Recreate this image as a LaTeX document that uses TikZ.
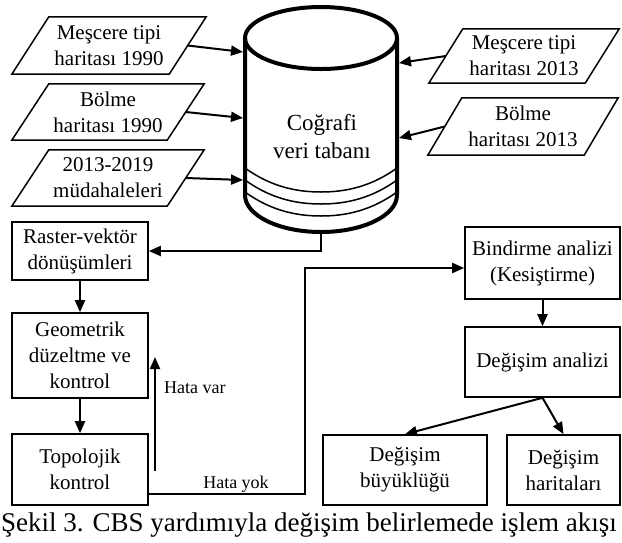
\documentclass[tikz,border=0pt]{standalone}
\usepackage{fontspec}
\setmainfont{Liberation Serif}
\usetikzlibrary{arrows.meta,calc}
\begin{document}
\begin{tikzpicture}[x=1pt,y=-1pt,
 box/.style={draw, line width=1.6pt, rectangle, align=center, inner sep=0pt, font=\fontsize{21}{26}\selectfont},
 para/.style={rectangle, align=center, inner sep=0pt, font=\fontsize{21}{26}\selectfont, minimum height=56pt},
 paraline/.style={line width=1.5pt, line join=miter},
 arr/.style={line width=2pt, -{Triangle[length=12pt,width=10pt]}},
 lbl/.style={font=\fontsize{18}{20}\selectfont, inner sep=0pt},
 cyl/.style={line width=4pt},
 wave/.style={line width=1.5pt},
 ]
\useasboundingbox (0,0) rectangle (622,542);

% input maps (parallelograms)
\node[para, minimum width=157pt, minimum height=57pt] (p1) at (109,45.5) {Meşcere tipi\\haritası 1990};
\node[para, minimum width=155pt] (p2) at (108,112) {Bölme\\haritası 1990};
\node[para, minimum width=155pt] (p3) at (108,178) {2013-2019\\müdahaleleri};
\node[para, minimum width=156pt, minimum height=54pt] (q1) at (524,56) {Meşcere tipi\\haritası 2013};
\node[para, minimum width=156pt, minimum height=57pt] (q2) at (523,126.5) {Bölme\\haritası 2013};
\foreach \n/\s in {p1/18.5,p2/18.5,p3/18.5,q1/17,q2/17}
  \draw[paraline] ([xshift=\s pt]\n.north west) -- ([xshift=\s pt]\n.north east)
     -- ([xshift=-\s pt]\n.south east) -- ([xshift=-\s pt]\n.south west) -- cycle;

% database cylinder
\draw[cyl] (321,38) ellipse [x radius=76pt, y radius=31pt];
\draw[cyl] (245,38) -- (245,195) arc[start angle=180, end angle=360, x radius=76pt, y radius=37pt] -- (397,38);
\foreach \y in {168,180,192}
  \draw[wave] (245,\y) .. controls (270,\y+18) and (295,\y+24) .. (321,\y+24)
     .. controls (347,\y+24) and (372,\y+18) .. (397,\y);
\node[font=\fontsize{23}{28}\selectfont, align=center, inner sep=0pt] (db) at (322,137) {Coğrafi\\veri tabanı};
\coordinate (dbL1) at (243,52);
\coordinate (dbL2) at (243,118);
\coordinate (dbL3) at (243,180);
\coordinate (dbR1) at (399,63);
\coordinate (dbR2) at (399,138);
\coordinate (dbB) at (321,232);

\draw[arr] (p1.east) -- (dbL1);
\draw[arr] (p2.east) -- (dbL2);
\draw[arr] (p3.east) -- (dbL3);
\draw[arr] (q1.west) -- (dbR1);
\draw[arr] (q2.west) -- (dbR2);

% process boxes
\node[box, minimum width=136pt, minimum height=58pt] (rv) at (80,251) {Raster-vektör\\dönüşümleri};
\node[box, minimum width=136pt, minimum height=85pt] (geo) at (80,355.5) {Geometrik\\düzeltme ve\\kontrol};
\node[box, minimum width=136pt, minimum height=71pt] (topo) at (80,469.5) {Topolojik\\kontrol};
\node[box, minimum width=155pt, minimum height=72pt] (bind) at (542.5,263) {Bindirme analizi\\(Kesiştirme)};
\node[box, minimum width=155pt, minimum height=70pt] (anal) at (542.5,362) {Değişim analizi};
\node[box, minimum width=164pt, minimum height=70pt] (buy) at (405,470) {Değişim\\büyüklüğü};
\node[box, minimum width=113pt, minimum height=70pt] (har) at (563.5,470) {Değişim\\haritaları};

\draw[arr] (dbB) |- (rv.east);
\draw[arr] (rv.south) -- (geo.north);
\draw[arr] (geo.south) -- (topo.north);

\coordinate (hv1) at (155,471);
\coordinate (hv2) at (155,357);
\draw[arr] (hv1) -- (hv2);
\node[lbl, anchor=base west] (hvl) at (164,393) {Hata var};

\draw[arr] ($(topo.south east)+(0,-12)$) -| (305,268) -- ($(bind.west)+(0,5)$);
\node[lbl, anchor=base] (hyl) at (236,488) {Hata yok};

\draw[arr] (bind.south) -- (anal.north);
\draw[arr] (anal.south) -- (buy.north);
\draw[arr] (anal.south) -- (har.north);

% caption
\node[font=\fontsize{27}{30}\selectfont, anchor=base, inner sep=0pt] (cap) at (309,531) {Şekil 3. CBS yardımıyla değişim belirlemede işlem akışı};
\end{tikzpicture}
\end{document}
